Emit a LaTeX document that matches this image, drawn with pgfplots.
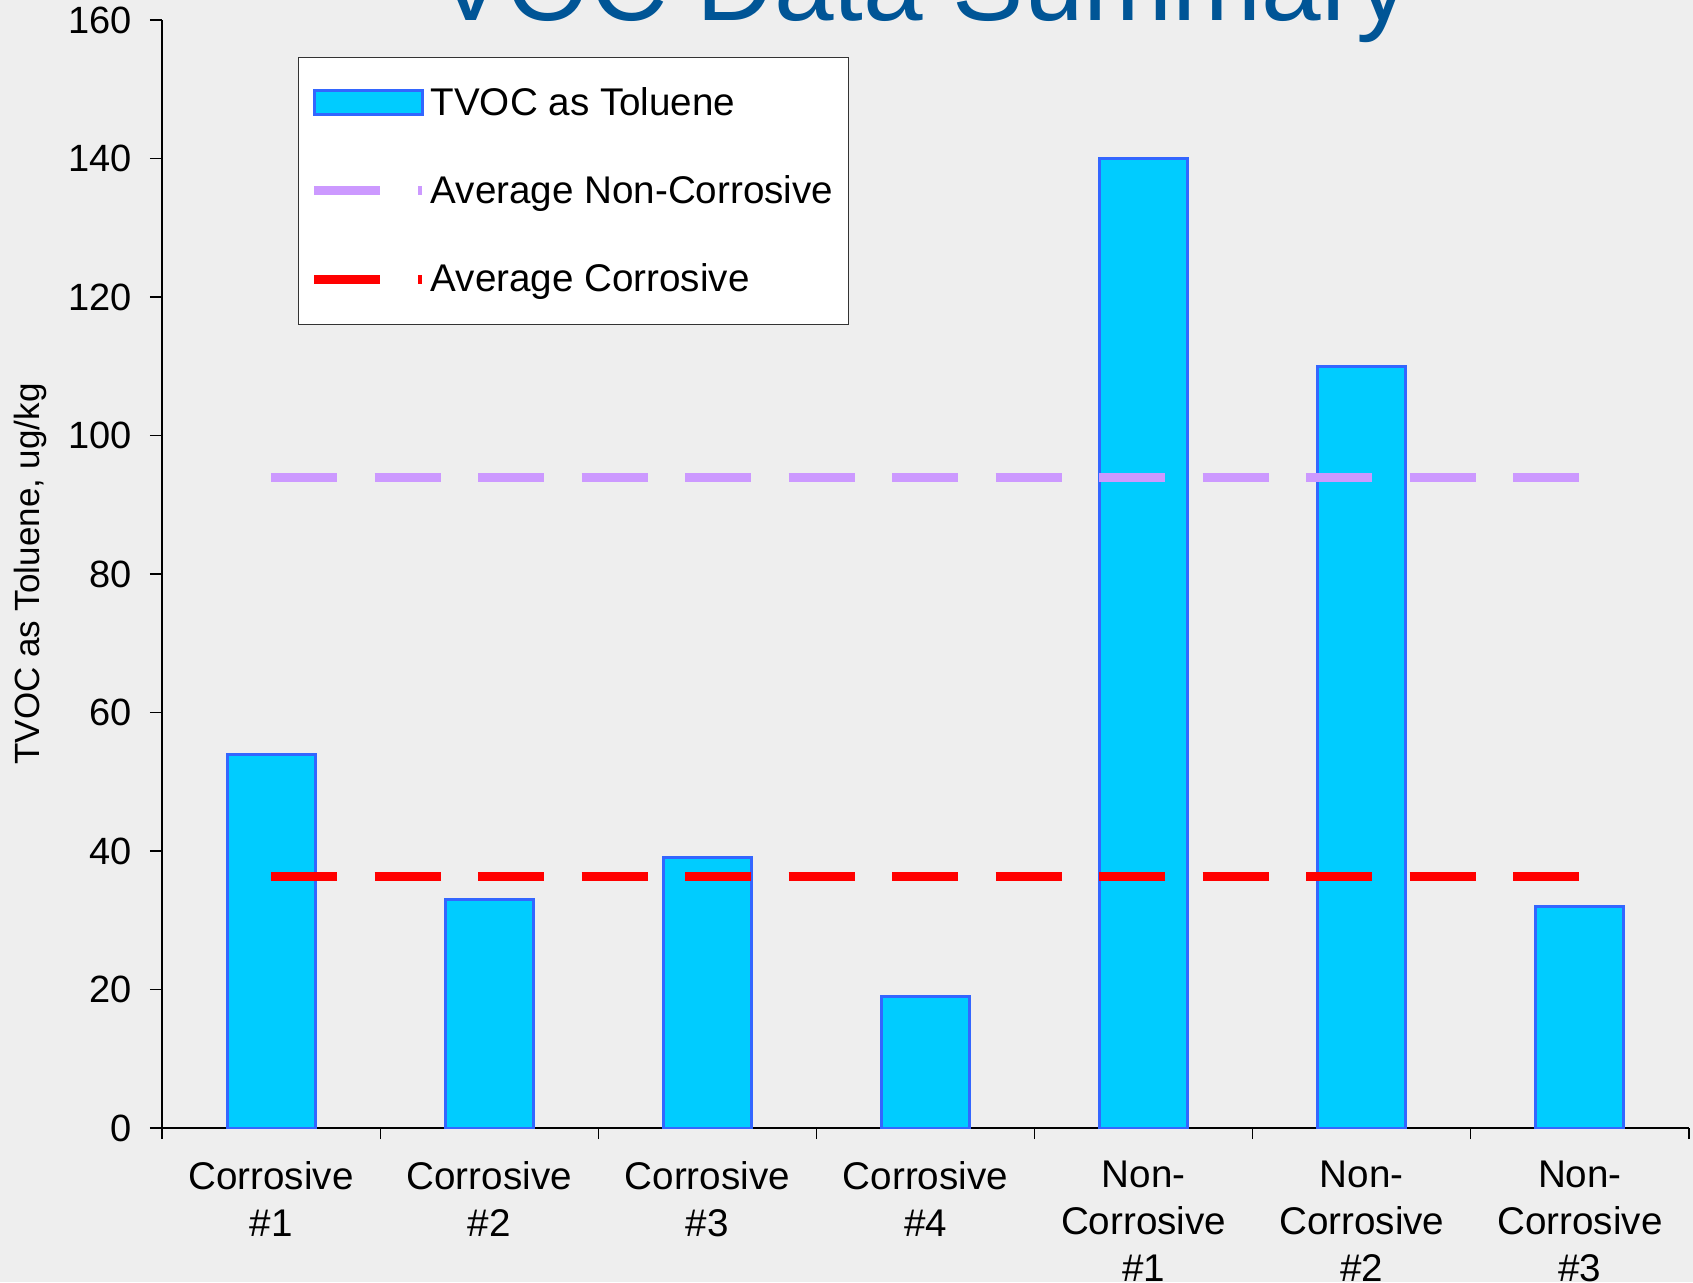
\documentclass[border=0pt]{standalone}
\usepackage{fontspec}
\setmainfont{Liberation Sans}
\usepackage{pgfplots}
\pgfplotsset{compat=1.18}
\definecolor{bg}{RGB}{238,238,238}
\definecolor{barfill}{RGB}{0,204,255}
\definecolor{baredge}{RGB}{51,102,255}
\definecolor{lav}{RGB}{204,153,255}
\definecolor{titleblue}{RGB}{0,85,150}
\begin{document}
\begin{tikzpicture}
\path[use as bounding box] (0pt,0pt) rectangle (846.5pt,641pt);
\begin{scope}
\clip (0pt,0pt) rectangle (846.5pt,641pt);
\fill[bg] (0pt,0pt) rectangle (846.5pt,641pt);
\node[anchor=base, font=\fontsize{53.5}{58}\selectfont, text=titleblue, inner sep=0pt] at (461.5pt,630.5pt) {VOC Data Summary};
\begin{axis}[
  at={(81pt,77pt)}, anchor=south west,
  scale only axis, width=763.5pt, height=554pt,
  xmin=-0.5, xmax=6.5, ymin=0, ymax=160,
  axis x line=bottom, axis y line=left,
  axis line style={-, black, line width=0.6pt},
  tick align=outside,
  major tick length=6pt, minor tick length=5.5pt,
  tick style={black, line width=0.6pt},
  ytick={0,20,...,160},
  xtick={0,1,2,3,4,5,6},
  xticklabels={{Corrosive\\\#1},{Corrosive\\\#2},{Corrosive\\\#3},{Corrosive\\\#4},{Non-\\Corrosive\\\#1},{Non-\\Corrosive\\\#2},{Non-\\Corrosive\\\#3}},
  minor xtick={-0.5,0.5,...,6.5},
  major x tick style={draw=none},
  /pgf/number format/assume math mode=true,
  yticklabel style={font=\fontsize{19}{21}\selectfont, xshift=-5.5pt},
  xticklabel style={font=\fontsize{19.3}{23.5}\selectfont, align=center, anchor=north, yshift=-7pt},
  ylabel={TVOC as Toluene, ug/kg},
  every axis y label/.append style={at={(axis description cs:-0.0864,0.5)}, anchor=center, font=\fontsize{17.5}{20}\selectfont},
  legend cell align=left,
  legend style={at={(0.0891,0.9666)}, anchor=north west, draw=black!80, line width=0.6pt, fill=white,
    font=\fontsize{19.3}{21}\selectfont, row sep=24.6pt, inner xsep=5.5pt, inner ysep=12.8pt,
    nodes={inner sep=2pt}},
]
\addplot[ybar, bar width=44pt, fill=barfill, draw=baredge, line width=1.5pt,
  legend image code/.code={\draw[fill=barfill, draw=baredge, line width=1.5pt] (0pt,-6pt) rectangle (54pt,6pt);}]
  coordinates {(0,54) (1,33) (2,39) (3,19) (4,140) (5,110) (6,32)};
\addlegendentry{TVOC as Toluene}
\addplot[lav, line width=4.5pt, dash pattern=on 33pt off 18.75pt,
  legend image code/.code={\draw[lav, line width=4.5pt, dash pattern=on 33pt off 19pt] (0pt,0pt) -- (54pt,0pt);}]
  coordinates {(0,94) (6,94)};
\addlegendentry{Average Non-Corrosive}
\addplot[red, line width=4.5pt, dash pattern=on 33pt off 18.75pt,
  legend image code/.code={\draw[red, line width=4.5pt, dash pattern=on 33pt off 19pt] (0pt,0pt) -- (54pt,0pt);}]
  coordinates {(0,36.25) (6,36.25)};
\addlegendentry{Average Corrosive}
\end{axis}
\end{scope}
\end{tikzpicture}
\end{document}
